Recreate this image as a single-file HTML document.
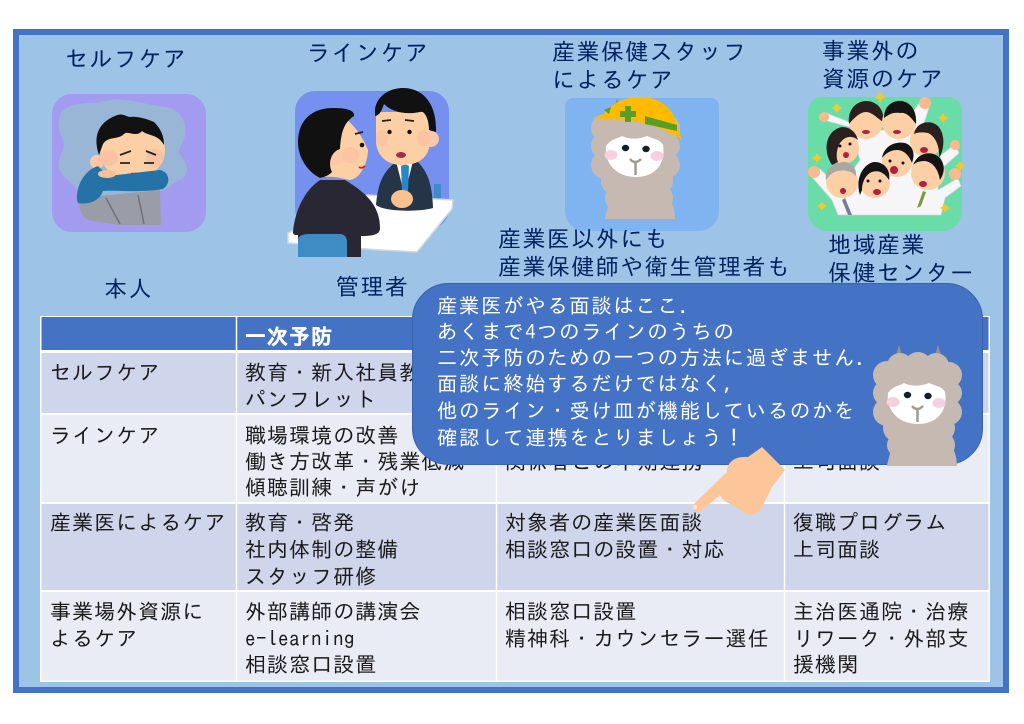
<!DOCTYPE html>
<html lang="ja"><head><meta charset="utf-8"><title>4つのケア</title>
<style>
html,body{margin:0;padding:0;background:#fff;width:1024px;height:724px;overflow:hidden}
svg{display:block}
text{font-family:"IPAGothic","Liberation Sans","Noto Sans CJK JP",sans-serif}
.h{font-size:23px;letter-spacing:1.45px;fill:#002060}
.t{font-size:21px;letter-spacing:1.05px;fill:#1a1a1a}
.b{font-size:20.5px;letter-spacing:1.55px;fill:#fff}
</style></head><body>
<svg width="1024" height="724" viewBox="0 0 1024 724" xmlns="http://www.w3.org/2000/svg">
<defs>
<g id="alp">
<g fill="#9b9088"><path d="M895 358L899 345L903 358Z"/><path d="M934 358L938 345L942 358Z"/></g>
<g fill="#c6b9b1">
<path d="M887 466C890 450 895 440 900 432H945C950 442 957 452 957 466Z"/>
<circle cx="887" cy="375" r="14"/><circle cx="886" cy="393" r="13"/><circle cx="887" cy="412" r="14"/><circle cx="897" cy="428" r="14"/>
<circle cx="949" cy="375" r="13"/><circle cx="950" cy="393" r="12"/><circle cx="949" cy="412" r="13"/><circle cx="941" cy="428" r="14"/>
<circle cx="900" cy="366" r="13"/><circle cx="918" cy="366" r="14"/><circle cx="936" cy="366" r="13"/>
<ellipse cx="918" cy="400" rx="34" ry="34"/>
<circle cx="899" cy="445" r="12"/><circle cx="942" cy="445" r="13"/>
<rect x="893" y="430" width="54" height="36"/>
</g>
<path d="M888 393C893 386 899 386 904 383C912 387 922 386 929 383C935 386 942 386 945 392C948 410 938 424 918 424C898 424 886 410 888 393Z" fill="#fff"/>
<ellipse cx="893" cy="402" rx="6.500" ry="5" fill="#f8cfe0"/><ellipse cx="939" cy="403" rx="6.500" ry="5" fill="#f8cfe0"/>
<ellipse cx="907.500" cy="395" rx="3.700" ry="3.200" fill="#10202a"/><ellipse cx="928" cy="396" rx="3.700" ry="3.200" fill="#10202a"/>
<path d="M912 406Q917 412 923 406M917.500 410V422" fill="none" stroke="#a39a90" stroke-width="2.500"/>
</g>
</defs>

<rect x="16" y="32" width="990" height="658" fill="#9dc3e6" stroke="#4472c4" stroke-width="6"/>

<!-- card 1 -->
<rect x="52" y="94" width="154" height="138" rx="20" fill="#a29bf0"/>
<path d="M62 112C72 100 92 105 105 101C125 96 145 105 165 107C180 108 187 122 185 135C183 147 176 150 180 155C190 165 190 178 175 182L165 190L85 215L78 190C70 180 56 175 59 160C62 150 66 145 62 138C57 128 58 118 62 112Z" fill="#9ab6d6"/>
<path d="M78 192L100 196L160 190L161 225H118C105 222 90 222 85 218C80 212 78 206 78 192Z" fill="#9a9da8"/>
<path d="M138 195L144 224M106 198L120 224" stroke="#6e717c" stroke-width="1.500" fill="none"/>
<circle cx="97" cy="162" r="7" fill="#fbc8a8"/>
<path d="M100 148C100 125 118 118 135 118C152 118 164 132 165 150C165 168 150 178 130 178C112 178 100 168 100 148Z" fill="#fcd0a4"/>
<ellipse cx="108" cy="158" rx="10" ry="8" fill="#f9b7a2" opacity=".6"/><ellipse cx="155" cy="158" rx="9" ry="9" fill="#f9b7a2" opacity=".6"/>
<path d="M99 155C92 135 100 122 115 116C122 112 127 117 130 117C135 116 145 118 154 122C160 128 164 135 164 145C158 134 148 136 142 131C136 138 128 130 124 134C118 140 108 136 103 144Z" fill="#121212"/>
<path d="M120 155L131 151M146 151L156 155M120 163H130M144 163H154" stroke="#222" stroke-width="1.800" fill="none"/>
<path d="M131 174H139" stroke="#c23" stroke-width="2.500"/>
<path d="M77 200C76 185 85 170 98 166L108 176L160 170C170 172 171 184 163 189C140 193 120 190 103 191C100 200 90 205 78 203Z" fill="#2472a6"/>
<ellipse cx="107" cy="174" rx="9" ry="4" fill="#f9bf9b"/>

<!-- card 2 -->
<rect x="295" y="91" width="154" height="138" rx="20" fill="#7590ee"/>
<path d="M434 184H441V199H434Z" fill="#3f8cc4"/>
<path d="M367 195L453 200L452 209L417 252L380 250L288 243L288 233Z" fill="#fff" stroke="#d4d6e0" stroke-width="1.500"/>
<path d="M376 205C378 180 385 170 398 160H416C426 170 432 180 433 208C420 212 385 212 376 205Z" fill="#263448"/>
<path d="M396 161H413L407 185H402Z" fill="#fff"/>
<path d="M401 166L405 164L409 166L408 192H402Z" fill="#2b86c8"/>
<ellipse cx="402" cy="199" rx="11" ry="9" fill="#f9c090"/>
<circle cx="431" cy="139" r="8" fill="#fbc8a8"/>
<path d="M376 112H430V140C430 158 418 165 402 165C386 165 376 155 376 140Z" fill="#fcd0a4"/>
<ellipse cx="382" cy="138" rx="6" ry="8" fill="#f9b7a2" opacity=".5"/><ellipse cx="424" cy="138" rx="7" ry="8" fill="#f9b7a2" opacity=".5"/>
<circle cx="389.500" cy="132" r="2.200" fill="#111"/><circle cx="409.500" cy="132" r="2.200" fill="#111"/>
<path d="M382 121L391 120M405 120L414 121" stroke="#222" stroke-width="1.800"/>
<ellipse cx="401" cy="155" rx="5" ry="3" fill="#a0304a"/>
<path d="M375 113C374 98 388 88 403 88C420 88 437 100 436 132L429 130C429 118 424 110 420 112C405 115 392 112 384 104C382 110 380 115 375 116Z" fill="#111"/>
<path d="M293 232C295 210 305 190 320 180H345C365 192 380 205 380 228C380 235 372 236 361 236V257H298V235C295 235 293 235 293 232Z" fill="#2a2735"/>
<path d="M298 257V240C298 236 302 234 310 234H340C345 234 347 238 347 242V257Z" fill="#3f8cc4"/>
<path d="M336 114C350 118 362 135 368 150C368 160 362 178 350 180C340 178 330 175 320 178L330 116Z" fill="#fcd0a4"/>
<ellipse cx="350" cy="155" rx="9" ry="8" fill="#f9b7a2" opacity=".5"/>
<circle cx="336" cy="158" r="7" fill="#fbc8a8"/>
<path d="M320 178C305 170 298 155 298 142C298 118 315 107 335 108C345 108 355 110 354 116C345 122 341 130 340 149C330 152 328 165 332 172C328 176 324 177 320 178Z" fill="#111"/>
<circle cx="362" cy="145" r="2.300" fill="#111"/>
<path d="M355 134L363 132" stroke="#222" stroke-width="1.800"/>
<path d="M359 167Q362 169 365 166" stroke="#c23" stroke-width="1.800" fill="none"/>

<!-- card 3 -->
<path d="M573 98H711a8 8 0 0 1 8 8V211a20 20 0 0 1 -20 20H585a20 20 0 0 1 -20 -20V106a8 8 0 0 1 8 -8Z" fill="#80b4f0"/>
<use href="#alp" transform="translate(-282,-247)"/>
<path d="M592 118L603 115C610 104 625 97 640 97C660 97 674 108 678 128L682 140C665 128 640 120 620 120C610 119 600 119 592 118Z" fill="#ffbb00"/>
<path d="M604 110L611 107L609 114ZM645 116L677 125V131L645 124Z" fill="#5a9e28"/>
<path d="M620 111h5v-5h6v5h5v6h-5v5h-6v-5h-5Z" fill="#5a9e28"/>

<!-- card 4 -->
<path d="M822 97H948a14 14 0 0 1 14 14V211a20 20 0 0 1 -20 20H828a20 20 0 0 1 -20 -20V111a14 14 0 0 1 14 -14Z" fill="#6adca8"/>
<g fill="#f6f6f8" stroke="#cdd3d8" stroke-width=".7">
<path d="M811 176L820 169L840 188L860 160L850 127L823 120L826 113L870 130H900L920 102L929 108L920 135L935 160L955 144L959 153L938 172V190L958 178L961 186L945 198L941 215H838L832 200Z"/>
</g>
<g fill="#fcb98f"><circle cx="814" cy="172" r="6"/><circle cx="955" cy="174" r="6"/><circle cx="925" cy="103" r="6"/><circle cx="824" cy="117" r="5"/><circle cx="955" cy="145" r="5"/></g>
<circle cx="866" cy="122" r="17" fill="#fcd0a4"/><path d="M849 124C847 108 858 101 866 101C877 101 885 110 883 122C877 118 872 112 866 112C860 112 854 118 849 124Z" fill="#2a211e"/>
<circle cx="899" cy="122" r="17" fill="#fcd0a4"/><path d="M884 118C884 104 895 100 902 101C912 103 917 112 916 124C910 116 906 112 900 113C892 112 888 115 884 118Z" fill="#141414"/>
<circle cx="926" cy="141" r="16" fill="#fcd0a4"/><path d="M914 134C916 122 930 119 938 126C946 135 944 150 939 158C940 146 935 136 928 133C922 132 918 132 914 134Z" fill="#2a211e"/>
<circle cx="843" cy="148" r="16" fill="#fcd0a4"/><path d="M832 165C822 150 826 130 842 127C850 127 856 132 858 140C852 135 845 136 840 143C836 150 836 158 838 162Z" fill="#2a211e"/>
<circle cx="897" cy="162" r="15" fill="#fcd0a4"/><path d="M882 158C884 146 895 141 905 143C914 146 915 155 912 163C908 153 902 150 897 150C891 150 886 153 882 158Z" fill="#141414"/>
<circle cx="928" cy="173" r="17" fill="#fcd0a4"/><path d="M913 165C918 152 932 150 940 158C946 166 944 174 940 180C938 168 932 162 925 161C920 161 916 162 913 165Z" fill="#141414"/>
<circle cx="842" cy="182" r="16" fill="#fcd0a4"/><path d="M826 180C824 168 835 162 845 162C853 163 857 170 856 176C850 170 844 170 838 171C832 172 829 176 826 180Z" fill="#a8a8a6"/>
<circle cx="875" cy="183" r="15" fill="#fcd0a4"/><path d="M860 195C854 176 866 162 875 162C884 162 891 170 889 180C884 172 878 170 872 172C866 174 862 182 862 190Z" fill="#141414"/>
<g fill="#b02040"><ellipse cx="866" cy="132" rx="4" ry="2"/><ellipse cx="897" cy="132" rx="4" ry="2"/><ellipse cx="924" cy="150" rx="4" ry="3"/><ellipse cx="846" cy="155" rx="3" ry="3"/><ellipse cx="894" cy="170" rx="4" ry="4"/><ellipse cx="923" cy="184" rx="4" ry="3"/><ellipse cx="843" cy="191" rx="3" ry="3"/><ellipse cx="877" cy="192" rx="4" ry="3"/></g>
<g fill="#111"><circle cx="840" cy="146" r="1.500"/><circle cx="850" cy="144" r="1.500"/><circle cx="890" cy="161" r="1.500"/><circle cx="903" cy="163" r="1.500"/><circle cx="868" cy="181" r="1.500"/><circle cx="880" cy="181" r="1.500"/></g>
<path d="M923 191L917 208L921 206L926 192Z" fill="#7a9a3c"/><path d="M845 198L852 215L848 215L842 200Z" fill="#777f8c"/>
<g fill="#f2c92c"><path d="M880 91l2 4 4 2-4 2-2 4-2-4-4-2 4-2Z"/><path d="M837 103l2 3 3 2-3 2-2 3-2-3-3-2 3-2Z"/><path d="M943 113l2 3 3 2-3 2-2 3-2-3-3-2 3-2Z"/><path d="M817 153l2 3 3 2-3 2-2 3-2-3-3-2 3-2Z"/><path d="M960 161l2 3 3 2-3 2-2 3-2-3-3-2 3-2Z"/><path d="M822 202l2 2 3 2-3 2-2 2-2-2-3-2 3-2Z"/><path d="M945 204l2 2 3 2-3 2-2 2-2-2-3-2 3-2Z"/></g>

<!-- headings -->
<g>
<text class="h" x="65" y="67">セルフケア</text>
<text class="h" x="307" y="61">ラインケア</text>
<text class="h" x="552" y="60">産業保健スタッフ</text>
<text class="h" x="552" y="88">によるケア</text>
<text class="h" x="822" y="59">事業外の</text>
<text class="h" x="822" y="87">資源のケア</text>
<text class="h" x="498" y="247">産業医以外にも</text>
<text class="h" x="498" y="275">産業保健師や衛生管理者も</text>
<text class="h" x="828" y="253">地域産業</text>
<text class="h" x="828" y="281">保健センター</text>
<text class="h" x="104" y="297">本人</text>
<text class="h" x="336" y="295">管理者</text>
</g>

<!-- table -->
<rect x="40" y="316" width="950" height="366" fill="#fff"/>
<rect x="41.500" y="317" width="947" height="33" fill="#4472c4"/>
<rect x="41.500" y="353" width="947" height="60" fill="#cfd5ea"/>
<rect x="41.500" y="415" width="947" height="87" fill="#e9ebf5"/>
<rect x="41.500" y="504" width="947" height="86" fill="#cfd5ea"/>
<rect x="41.500" y="592" width="947" height="88.500" fill="#e9ebf5"/>
<path d="M236.500 316V682M496.500 316V682M784.500 316V682" stroke="#fff" stroke-width="1.500"/>
<text x="245" y="344" font-size="21" font-weight="bold" letter-spacing="1" fill="#fff" stroke="#fff" stroke-width=".4">一次予防</text>
<text x="505" y="344" font-size="21" font-weight="bold" letter-spacing="1" fill="#fff">二次予防</text>
<text x="793" y="344" font-size="21" font-weight="bold" letter-spacing="1" fill="#fff">三次予防</text>
<g>
<text class="t" x="50" y="380">セルフケア</text>
<text class="t" x="50" y="443">ラインケア</text>
<text class="t" x="50" y="530">産業医によるケア</text>
<text class="t" x="50" y="619">事業場外資源に</text>
<text class="t" x="50" y="646">よるケア</text>
<text class="t" x="245" y="380">教育・新入社員教育</text>
<text class="t" x="245" y="407">パンフレット</text>
<text class="t" x="245" y="443">職場環境の改善</text>
<text class="t" x="245" y="469">働き方改革・残業低減</text>
<text class="t" x="245" y="495">傾聴訓練・声がけ</text>
<text class="t" x="245" y="530">教育・啓発</text>
<text class="t" x="245" y="557">社内体制の整備</text>
<text class="t" x="245" y="584">スタッフ研修</text>
<text class="t" x="245" y="619">外部講師の講演会</text>
<text class="t" x="245" y="646" style="letter-spacing:.5px">e-learning</text>
<text class="t" x="245" y="672">相談窓口設置</text>
<text class="t" x="505" y="469">関係者との中期連携</text>
<text class="t" x="505" y="530">対象者の産業医面談</text>
<text class="t" x="505" y="557">相談窓口の設置・対応</text>
<text class="t" x="505" y="619">相談窓口設置</text>
<text class="t" x="505" y="646">精神科・カウンセラー選任</text>
<text class="t" x="793" y="469">上司面談</text>
<text class="t" x="793" y="530">復職プログラム</text>
<text class="t" x="793" y="557">上司面談</text>
<text class="t" x="793" y="619">主治医通院・治療</text>
<text class="t" x="793" y="646">リワーク・外部支</text>
<text class="t" x="793" y="672">援機関</text>
</g>

<!-- callout -->
<rect x="412.500" y="283.500" width="570" height="181" rx="36" fill="#4472c4" stroke="#3a62a8"/>
<text class="b" x="437" y="313">産業医がやる面談はここ.</text>
<text class="b" x="437" y="339">あくまで4つのラインのうちの</text>
<text class="b" x="437" y="365">二次予防のための一つの方法に過ぎません.</text>
<text class="b" x="437" y="391">面談に終始するだけではなく,</text>
<text class="b" x="437" y="418">他のライン・受け皿が機能しているのかを</text>
<text class="b" x="437" y="445">確認して連携をとりましょう！</text>
<use href="#alp"/>

<!-- hand -->
<path d="M693 509C692 505 695 503 698 500L727 472C727 462 735 456 748 457L762 447L785 470L772 487L761 509C755 516 750 516 745 513L733 505C726 503 722 499 720 495L702 510C697 512 694 512 693 509Z" fill="#fdc698"/>
<path d="M693 507C693 505 696 504 697 506L697 509C695 510 693 509 693 507Z" fill="#fde3d0"/>
</svg>
</body></html>
